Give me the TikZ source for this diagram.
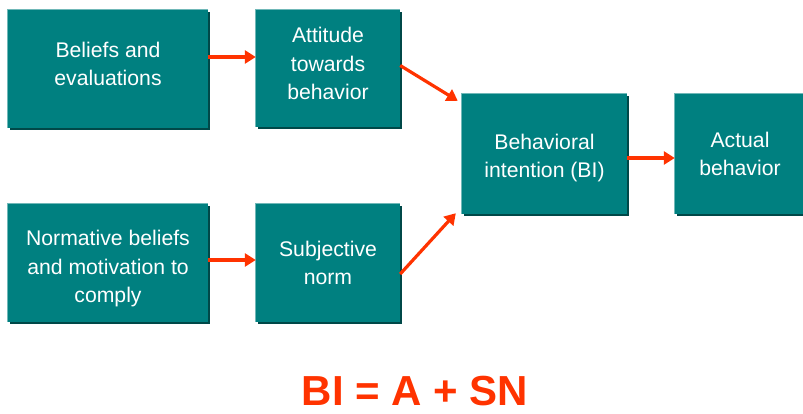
\documentclass[tikz,border=0pt]{standalone}
\usepackage{fontspec}
\setmainfont{Liberation Sans}
\usetikzlibrary{arrows.meta,calc}
\definecolor{teal0}{HTML}{008080}
\definecolor{tealdark}{HTML}{004848}
\definecolor{teallight}{HTML}{70B8B8}
\definecolor{arrowred}{HTML}{FF3300}
\tikzset{
  box/.style={fill=teal0, text=white, align=center, inner sep=0pt,
    font=\fontsize{21.2}{28.5}\selectfont,
    preaction={fill=tealdark, transform canvas={shift={(2pt,-2pt)}}}},
  arr/.style={draw=arrowred, line width=3.2pt, -{Triangle[length=11pt,width=13pt]}, shorten >=0pt},
}
\begin{document}
\begin{tikzpicture}[x=1pt,y=-1pt]
\useasboundingbox (0,0) rectangle (803,413);
\node[box, minimum width=200pt, minimum height=118pt] (b1) at (108,69) {Beliefs and\\evaluations\\[-18.5pt]};
\node[box, minimum width=144pt, minimum height=117pt] (b2) at (328,68.5) {Attitude\\towards\\behavior\\[-18.5pt]};
\node[box, minimum width=165pt, minimum height=120pt] (b3) at (544.5,154) {\mbox{}\\[-5.5pt]Behavioral\\intention (BI)};
\node[box, minimum width=130pt, minimum height=120pt] (b4) at (740,154) {Actual\\behavior};
\node[box, minimum width=200pt, minimum height=118pt] (b5) at (108,263) {\mbox{}\\[-1.5pt]Normative beliefs\\and motivation to\\comply};
\node[box, minimum width=144pt, minimum height=118pt] (b6) at (328,263) {Subjective\\norm};
\foreach \n in {b1,b2,b3,b4,b5,b6}{
  \draw[teallight, line width=1pt] (\n.south west) -- (\n.north west) -- (\n.north east);
}
\coordinate (a1s) at ($(b1.east)+(0,-12)$);
\coordinate (a1e) at ($(b2.west)+(0,-11.5)$);
\draw[arr] (a1s) -- (a1e);
\coordinate (a2e) at ($(b6.west)+(0,-3)$);
\coordinate (a2s) at ($(b5.east)+(0,-3)$);
\draw[arr] (a2s) -- (a2e);
\coordinate (a3s) at ($(b2.east)+(0,-3)$);
\coordinate (a3e) at ($(b3.north west)+(-4,7)$);
\draw[arr] (a3s) -- (a3e);
\coordinate (a4s) at ($(b6.east)+(0,11)$);
\coordinate (a4e) at ($(b3.south west)+(-6,-1)$);
\draw[arr] (a4s) -- (a4e);
\coordinate (a5s) at ($(b3.east)+(0,4)$);
\coordinate (a5e) at ($(b4.west)+(0,4)$);
\draw[arr] (a5s) -- (a5e);
\node[text=arrowred, font=\fontsize{42}{48}\bfseries\selectfont, anchor=base, inner sep=0pt, text depth=0pt] (eq) at (415,405) {BI = A + SN};
\end{tikzpicture}
\end{document}
